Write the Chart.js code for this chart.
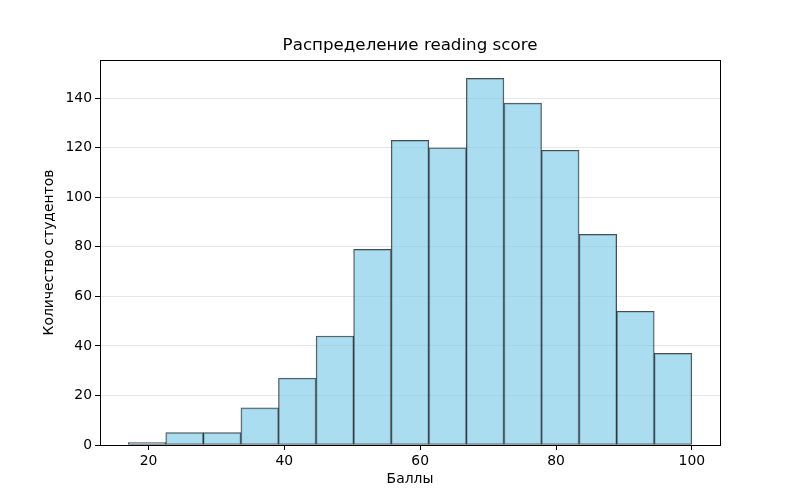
<!DOCTYPE html>
<html>
<head>
<meta charset="utf-8">
<script src="https://cdn.jsdelivr.net/npm/chart.js@4.4.0/dist/chart.umd.min.js"></script>
<style>
html,body{margin:0;padding:0;background:#fff;}
#wrap{width:800px;height:500px;position:relative;}
</style>
</head>
<body>
<div id="wrap"><canvas id="c" width="800" height="500"></canvas></div>
<script>
const chartTitle = "Распределение reading score";
const xTitle = "Баллы";
const yTitle = "Количество студентов";
const scoreMin = 17;
const scoreMax = 100;
const counts = [1, 5, 5, 15, 27, 44, 79, 123, 120, 148, 138, 119, 85, 54, 37];
const xTicks = [20, 40, 60, 80, 100];
const yTicks = [0, 20, 40, 60, 80, 100, 120, 140];

const nBins = counts.length;
const binW = (scoreMax - scoreMin) / nBins;
const points = counts.map((c, i) => ({ x: scoreMin + binW * (i + 0.5), y: c }));
const xPad = (scoreMax - scoreMin) * 0.05;
const yMax = Math.max(...counts) * 1.05;

const frame = {
  id: 'frame',
  afterDatasetsDraw(chart) {
    const a = chart.chartArea, ctx = chart.ctx;
    ctx.save();
    ctx.strokeStyle = '#000';
    ctx.lineWidth = 1;
    ctx.strokeRect(Math.round(a.left) + 0.5, Math.round(a.top) + 0.5, Math.round(a.right - a.left), Math.round(a.bottom - a.top));
    ctx.restore();
  }
};

const font = { family: 'DejaVu Sans', size: 13.9 };

new Chart(document.getElementById('c'), {
  type: 'bar',
  data: {
    datasets: [{
      data: points,
      backgroundColor: 'rgba(135,206,235,0.7)',
      borderColor: 'rgba(0,0,0,0.7)',
      borderWidth: 1,
      borderSkipped: false,
      barPercentage: 1,
      categoryPercentage: 1
    }]
  },
  options: {
    responsive: false,
    animation: false,
    devicePixelRatio: 1,
    layout: { padding: { left: 0, right: 80, top: 0, bottom: 0 } },
    plugins: {
      legend: { display: false },
      tooltip: { enabled: false },
      title: {
        display: true,
        fullSize: false,
        text: chartTitle,
        color: '#000',
        font: { family: 'DejaVu Sans', size: 16.7, weight: 'normal' },
        padding: { top: 36, bottom: 4 }
      }
    },
    scales: {
      x: {
        type: 'linear',
        offset: false,
        min: scoreMin - xPad,
        max: scoreMax + xPad,
        afterFit(s) { s.height = 55; },
        afterBuildTicks(s) { s.ticks = xTicks.map(v => ({ value: v })); },
        ticks: { color: '#000', font, padding: 3, maxRotation: 0, includeBounds: false },
        grid: { drawOnChartArea: false, offset: false, color: '#000', tickLength: 5 },
        border: { color: '#000' },
        title: { display: true, text: xTitle, color: '#000', font, padding: { top: 0, bottom: 12 } }
      },
      y: {
        min: 0,
        max: yMax,
        afterFit(s) { s.width = 100; },
        afterBuildTicks(s) { s.ticks = yTicks.map(v => ({ value: v })); },
        ticks: { color: '#000', font, padding: 3, includeBounds: false },
        grid: { color: 'rgba(176,176,176,0.3)', tickColor: '#000', tickLength: 5 },
        border: { color: '#000' },
        title: { display: true, text: yTitle, color: '#000', font, padding: { top: 41, bottom: 0 } }
      }
    }
  },
  plugins: [frame]
});
</script>
</body>
</html>
